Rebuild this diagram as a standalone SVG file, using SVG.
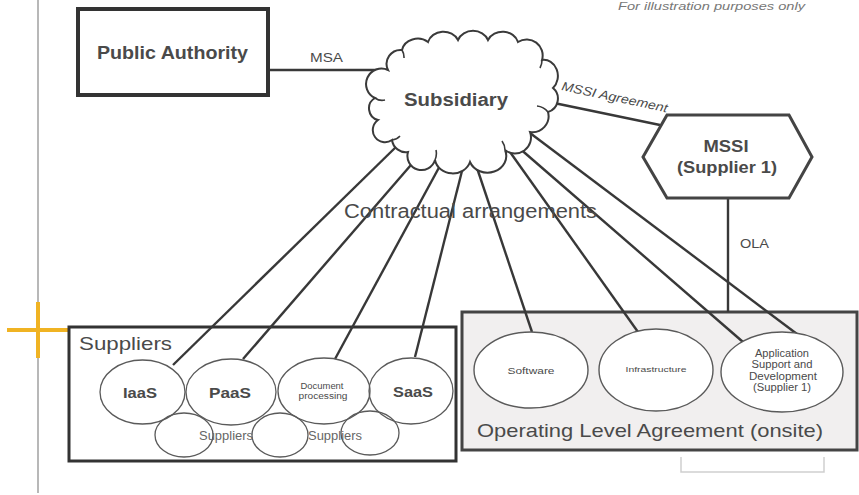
<svg xmlns="http://www.w3.org/2000/svg" width="859" height="495" viewBox="0 0 859 495">
  <style>
    .t { font-family: "Liberation Sans", Arial, sans-serif; fill: #4a4a4a; }
    .b { font-weight: bold; }
    .box { fill: #ffffff; stroke: #333333; }
    .conn { stroke: #383838; stroke-width: 2.4; fill: none; }
    .ell { fill: none; stroke: #5a5a5a; stroke-width: 1.3; }
    .ellw { fill: #ffffff; stroke: #5a5a5a; stroke-width: 1.4; }
  </style>
  <rect width="859" height="495" fill="#ffffff"/>

  <!-- page margin guide and crop mark -->
  <line x1="38" y1="0" x2="38" y2="493" stroke="#a0a0a0" stroke-width="1.5"/>
  <g id="crop-mark" stroke="#f0b323" stroke-width="4">
    <line x1="7" y1="330" x2="69" y2="330"/>
    <line x1="38" y1="302" x2="38" y2="358"/>
  </g>

  <text class="t" x="618" y="10" font-size="11" font-style="italic" textLength="187" lengthAdjust="spacingAndGlyphs" style="fill:#777">For illustration purposes only</text>

  <!-- containers -->
  <g id="suppliers">
    <rect x="69" y="327" width="387" height="134" fill="#ffffff" stroke="#333" stroke-width="3"/>
    <text class="t" x="79" y="350" font-size="19" textLength="93" lengthAdjust="spacingAndGlyphs">Suppliers</text>
  </g>
  <g id="ola-onsite">
    <rect x="462" y="312" width="395" height="138" fill="#f1efef" stroke="#444" stroke-width="3"/>
    <text class="t" x="477" y="437" font-size="19" textLength="346" lengthAdjust="spacingAndGlyphs">Operating Level Agreement (onsite)</text>
  </g>
  <path d="M681 457 V472 H824 V457" fill="none" stroke="#cfcfcf" stroke-width="1.5"/>

  <!-- connectors -->
  <g id="connectors" class="conn">
    <line x1="270" y1="70" x2="388" y2="70"/>
    <line x1="554" y1="103" x2="660" y2="125"/>
    <line x1="728" y1="198" x2="728" y2="312"/>
    <line x1="398" y1="145" x2="173" y2="365"/>
    <line x1="417" y1="158" x2="243" y2="359"/>
    <line x1="442" y1="162" x2="335" y2="359"/>
    <line x1="463" y1="167" x2="415" y2="357"/>
    <line x1="476" y1="165" x2="532" y2="332"/>
    <line x1="510" y1="152" x2="638" y2="332"/>
    <line x1="518" y1="147" x2="743" y2="342"/>
    <line x1="530" y1="133" x2="797" y2="334"/>
  </g>

  <!-- connector labels -->
  <text class="t" x="310" y="62" font-size="12" textLength="33" lengthAdjust="spacingAndGlyphs">MSA</text>
  <text class="t" x="0" y="0" font-size="12.5" font-style="italic" textLength="108" lengthAdjust="spacingAndGlyphs" transform="translate(561 90) rotate(12)">MSSI Agreement</text>
  <text class="t" x="740" y="248" font-size="12" textLength="29" lengthAdjust="spacingAndGlyphs">OLA</text>
  <text class="t" x="344" y="218" font-size="20" textLength="253" lengthAdjust="spacingAndGlyphs">Contractual arrangements</text>

  <!-- nodes -->
  <g id="public-authority">
    <rect x="78" y="9" width="190" height="86" fill="#ffffff" stroke="#333" stroke-width="4"/>
    <text class="t b" x="97" y="59" font-size="18" textLength="151" lengthAdjust="spacingAndGlyphs">Public Authority</text>
  </g>

  <g id="subsidiary">
    <path d="M388 70 A14 14 0 0 1 402 50 A16 14 0 0 1 428 42 A16 14 0 0 1 458 40 A16 14 0 0 1 488 40 A16 14 0 0 1 518 42 A16 16 0 0 1 542 60 A14 16 0 0 1 553 88 A14 14 0 0 1 548 112 A16 16 0 0 1 530 132 A16 16 0 0 1 505 150 A18 16 0 0 1 470 162 A18 16 0 0 1 435 160 A14 14 0 0 1 408 152 A14 14 0 0 1 392 140 A12 12 0 0 1 378 120 A12 12 0 0 1 375 98 A12 12 0 0 1 388 70 Z" fill="#ffffff" stroke="#3a3a3a" stroke-width="2"/>
    <path d="M402 50 A14 14 0 0 1 404 58 M542 60 A16 16 0 0 1 540 68 M548 112 A16 16 0 0 0 537 106 M505 150 A16 16 0 0 0 502 141 M435 160 A16 16 0 0 0 436 150 M392 140 A12 12 0 0 0 400 136 M375 98 A12 12 0 0 0 385 100" fill="none" stroke="#3a3a3a" stroke-width="1.6"/>
    <text class="t b" x="404" y="106" font-size="18" textLength="104" lengthAdjust="spacingAndGlyphs">Subsidiary</text>
  </g>

  <g id="mssi">
    <polygon points="667,115 789,115 812,157 789,198 667,198 643,157" fill="#ffffff" stroke="#444" stroke-width="3"/>
    <text class="t b" x="726" y="152" font-size="16" text-anchor="middle" textLength="45" lengthAdjust="spacingAndGlyphs">MSSI</text>
    <text class="t b" x="727" y="173" font-size="16" text-anchor="middle" textLength="100" lengthAdjust="spacingAndGlyphs">(Supplier  1)</text>
  </g>

  <g id="iaas">
    <ellipse class="ell" cx="142.5" cy="392" rx="42.5" ry="32"/>
    <text class="t b" x="123" y="398" font-size="15" textLength="34" lengthAdjust="spacingAndGlyphs">IaaS</text>
  </g>
  <g id="paas">
    <ellipse class="ell" cx="231" cy="392" rx="45" ry="33"/>
    <text class="t b" x="209" y="398" font-size="15" textLength="42" lengthAdjust="spacingAndGlyphs">PaaS</text>
  </g>
  <g id="document-processing">
    <ellipse class="ell" cx="324" cy="391" rx="46" ry="33"/>
    <text class="t" x="322" y="389" font-size="8.5" text-anchor="middle" textLength="43" lengthAdjust="spacingAndGlyphs">Document</text>
    <text class="t" x="323" y="399" font-size="8.5" text-anchor="middle" textLength="49" lengthAdjust="spacingAndGlyphs">processing</text>
  </g>
  <g id="saas">
    <ellipse class="ell" cx="411" cy="391" rx="42" ry="33"/>
    <text class="t b" x="393" y="397" font-size="15" textLength="40" lengthAdjust="spacingAndGlyphs">SaaS</text>
  </g>
  <g id="sub-suppliers">
    <ellipse class="ell" cx="184" cy="435" rx="29" ry="22"/>
    <ellipse class="ell" cx="280" cy="435" rx="28" ry="22"/>
    <ellipse class="ell" cx="370" cy="433" rx="29" ry="22"/>
    <text class="t" x="199" y="440" font-size="12" textLength="54" lengthAdjust="spacingAndGlyphs" style="fill:#666">Suppliers</text>
    <text class="t" x="308" y="440" font-size="12" textLength="54" lengthAdjust="spacingAndGlyphs" style="fill:#666">Suppliers</text>
  </g>

  <g id="software">
    <ellipse class="ellw" cx="531" cy="370" rx="57" ry="38"/>
    <text class="t" x="531" y="374" font-size="9" text-anchor="middle" textLength="47" lengthAdjust="spacingAndGlyphs">Software</text>
  </g>
  <g id="infrastructure">
    <ellipse class="ellw" cx="656" cy="370" rx="57" ry="41"/>
    <text class="t" x="656" y="372" font-size="8" text-anchor="middle" textLength="61" lengthAdjust="spacingAndGlyphs">Infrastructure</text>
  </g>
  <g id="application-support">
    <ellipse class="ellw" cx="782" cy="372" rx="61" ry="40"/>
    <text class="t" x="782" y="357" font-size="10" text-anchor="middle" textLength="54" lengthAdjust="spacingAndGlyphs">Application</text>
    <text class="t" x="782" y="368" font-size="10" text-anchor="middle" textLength="61" lengthAdjust="spacingAndGlyphs">Support and</text>
    <text class="t" x="783" y="380" font-size="10" text-anchor="middle" textLength="68" lengthAdjust="spacingAndGlyphs">Development</text>
    <text class="t" x="782" y="391" font-size="10" text-anchor="middle" textLength="58" lengthAdjust="spacingAndGlyphs">(Supplier 1)</text>
  </g>
</svg>
